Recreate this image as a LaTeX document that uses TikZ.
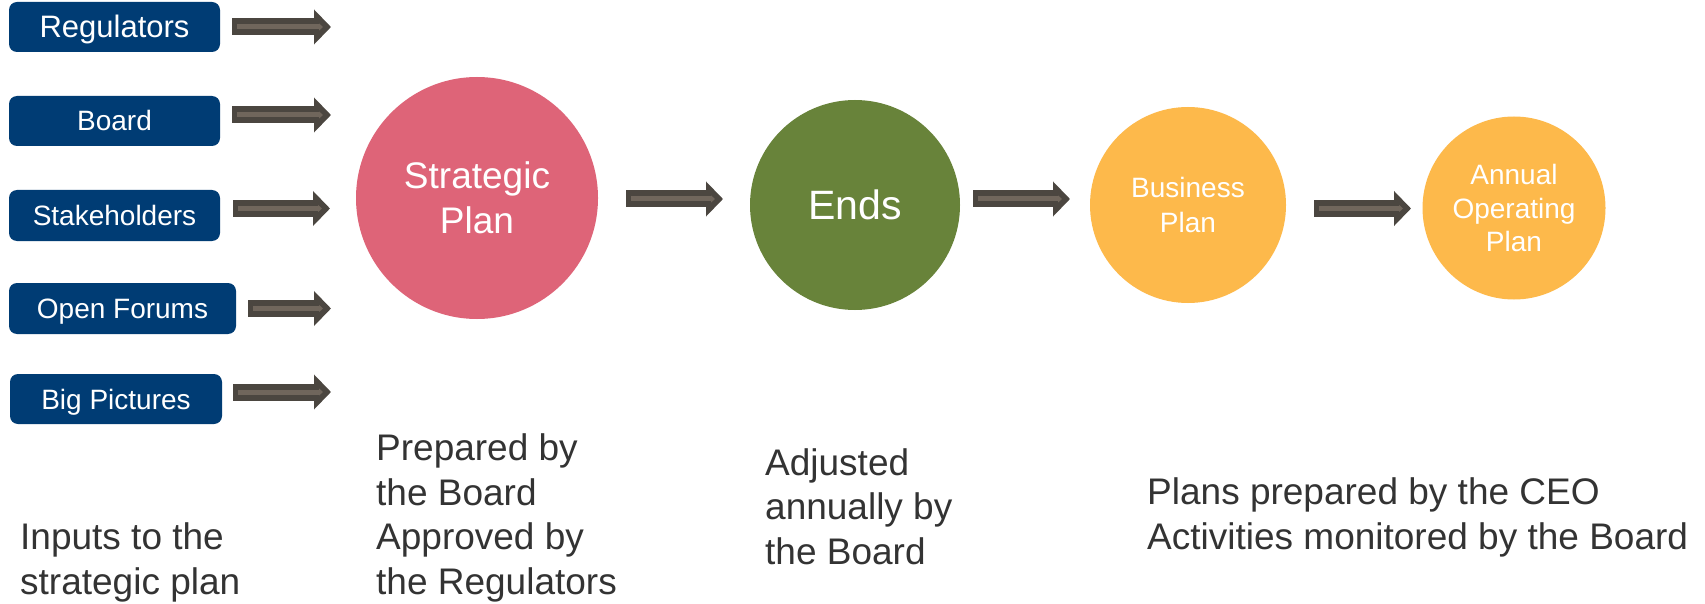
\documentclass[tikz,border=0pt]{standalone}
\usepackage{fontspec}
\setmainfont{Liberation Sans}
\usetikzlibrary{arrows.meta}
\definecolor{boxblue}{RGB}{0,60,116}
\definecolor{spink}{RGB}{222,100,120}
\definecolor{egreen}{RGB}{104,131,58}
\definecolor{porange}{RGB}{253,185,75}
\definecolor{arrowdark}{RGB}{75,70,64}
\definecolor{arrowlight}{RGB}{112,102,92}
\definecolor{textgray}{RGB}{51,51,51}
\tikzset{
  inbox/.style={draw=none, fill=boxblue, rounded corners=8pt, minimum height=50pt,
    inner sep=0pt, text=white, text height=20pt, text depth=0pt,
    font={\fontsize{28}{33}\selectfont}},
  bubble/.style={circle, draw=none, inner sep=0pt, text=white, align=center},
  fatarrow/.style={line width=17pt, draw=arrowdark, -{Triangle[length=17pt,width=34pt]}},
  fatinner/.style={line width=5pt, draw=arrowlight, -{Triangle[length=4pt,width=7pt]},
    shorten <=5pt, shorten >=8pt},
  note/.style={anchor=base west, inner sep=0pt, align=left, text=textgray,
    font={\fontsize{37}{44.5}\selectfont}},
}
\newcommand{\fatconn}[2]{\draw[fatarrow] (#1) -- (#2); \draw[fatinner] (#1) -- (#2);}
\begin{document}
\begin{tikzpicture}[x=1pt,y=-1pt]
\useasboundingbox[fill=white] (0,0) rectangle (1705,604);

% input boxes
\node[inbox, minimum width=211pt, text height=22pt, font={\fontsize{31}{36}\selectfont}] (reg) at (114.5,27) {Regulators};
\node[inbox, minimum width=211pt] (board) at (114.5,121) {Board};
\node[inbox, minimum width=211pt, minimum height=51pt] (stake) at (114.5,215.5) {Stakeholders};
\node[inbox, minimum width=227pt, minimum height=51pt] (open) at (122.5,308.5) {Open Forums};
\node[inbox, minimum width=212pt] (big) at (116,399) {Big Pictures};

% circles
\node[bubble, fill=spink, minimum size=242pt, font={\fontsize{37}{45}\selectfont}] (sp) at (477,198) {Strategic\\Plan};
\node[bubble, fill=egreen, minimum size=210pt, font={\fontsize{41}{48}\selectfont}] (ends) at (855,205) {Ends};
\node[bubble, fill=porange, minimum size=196pt, font={\fontsize{28}{35}\selectfont}] (bus) at (1188,205) {Business\\Plan};
\node[bubble, fill=porange, minimum size=183pt, font={\fontsize{28}{33.5}\selectfont}] (ann) at (1514,208) {Annual\\Operating\\Plan};

% arrow end points
\coordinate (regA) at (232,27);   \coordinate (regB) at (331,27);
\coordinate (boaA) at (232,115);  \coordinate (boaB) at (331,115);
\coordinate (staA) at (233,208.5);\coordinate (staB) at (330,208.5);
\coordinate (opeA) at (248,308.5);\coordinate (opeB) at (331,308.5);
\coordinate (bigA) at (233,392);  \coordinate (bigB) at (331,392);
\coordinate (spA) at (626,199);   \coordinate (spB) at (723,199);
\coordinate (enA) at (973,199);   \coordinate (enB) at (1070,199);
\coordinate (buA) at (1314,208.5);\coordinate (buB) at (1411,208.5);

\fatconn{regA}{regB}
\fatconn{boaA}{boaB}
\fatconn{staA}{staB}
\fatconn{opeA}{opeB}
\fatconn{bigA}{bigB}
\fatconn{spA}{spB}
\fatconn{enA}{enB}
\fatconn{buA}{buB}

% captions (anchored at the baseline of the last line)
\node[note] (cinputs) at (20,594) {Inputs to the\\strategic plan};
\node[note] (cprep) at (376,594) {Prepared by\\the Board\\Approved by\\the Regulators};
\node[note] (cadj) at (765,564) {Adjusted\\annually by\\the Board};
\node[note] (cplans) at (1147,549) {Plans prepared by the CEO\\Activities monitored by the Board};
\end{tikzpicture}
\end{document}
